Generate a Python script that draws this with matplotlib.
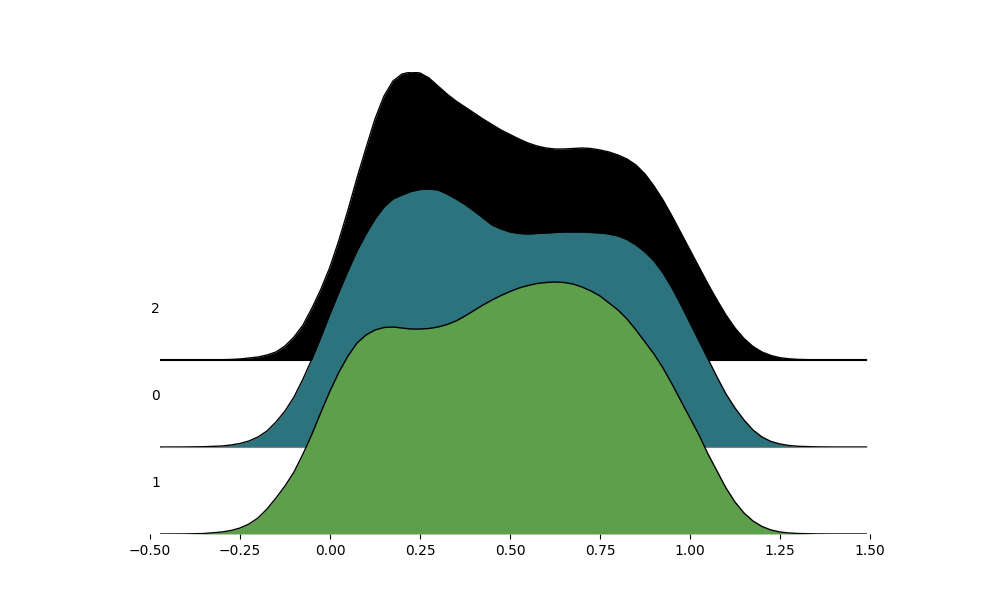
import numpy as np
import matplotlib.pyplot as plt

# kde curves (arbitrary height units), one per group
x = [-0.47, -0.45, -0.40, -0.35,
     -0.300, -0.275, -0.250, -0.225, -0.200, -0.175, -0.150, -0.125,
     -0.100, -0.075, -0.050, -0.025,
     0.000, 0.025, 0.050, 0.075, 0.100, 0.125, 0.150, 0.175,
     0.200, 0.225, 0.250, 0.275, 0.300, 0.325, 0.350, 0.375,
     0.400, 0.425, 0.450, 0.475, 0.500, 0.525, 0.550, 0.575,
     0.600, 0.625, 0.650, 0.675, 0.700, 0.725, 0.750, 0.775,
     0.800, 0.825, 0.850, 0.875, 0.900, 0.925, 0.950, 0.975,
     1.000, 1.025, 1.050, 1.075, 1.100, 1.125, 1.150, 1.175,
     1.200, 1.225, 1.250, 1.275, 1.300,
     1.35, 1.40, 1.45, 1.49]

dens_2 = [0, 0, 0, 0.1,
          0.3, 0.5, 1, 2, 3, 5, 8, 14, 23, 35, 52, 71,
          93, 120, 150, 182, 212, 241, 264, 279,
          286, 288, 287, 282, 274, 266, 259, 253,
          247, 241, 235.5, 230, 225.5, 221, 217, 214,
          212, 211, 211, 211.5, 212, 211.5, 210, 208,
          205, 201, 195, 186, 174, 160, 144, 127,
          110, 93, 76, 60, 45, 32, 21.5, 13.5,
          8, 4.5, 2.3, 1.2, 0.6,
          0.15, 0, 0, 0]

dens_0 = [0, 0, 0.05, 0.3,
          1, 2, 3.5, 6, 10, 16, 25, 36, 50, 68, 88, 110,
          133, 155, 176, 196, 213, 228, 240, 248,
          252, 255.5, 257.5, 258, 257, 253, 248, 242.5,
          236, 229, 222, 218, 215, 213.5, 213, 213.5,
          214, 214.5, 215, 215, 215, 214.5, 214, 213,
          211, 207.5, 202, 195, 186, 174, 159, 142,
          124, 106, 88, 70, 53, 39, 27, 17,
          10, 5.5, 3, 1.5, 0.7,
          0.15, 0, 0, 0]

dens_1 = [0, 0, 0.1, 0.5,
          2, 3.5, 6, 10, 16, 25, 36, 48, 62, 80, 100, 122,
          143, 162, 178, 191, 199, 204, 206.5, 207,
          206, 205, 205, 205.5, 207, 209.5, 213, 218,
          223.5, 229, 234, 238.5, 242.5, 246, 248.5, 250.5,
          251.5, 252, 251.5, 250, 247, 243, 238, 231,
          224, 215, 204, 192, 180, 166, 150, 133,
          116, 99, 80, 63, 46, 32, 21, 13,
          7.5, 4, 2, 1, 0.5,
          0.1, 0, 0, 0]

labels = ['2', '0', '1']
curves = [dens_2, dens_0, dens_1]
colors = ['#000000', '#2c737e', '#5e9f4b']
step = 87

fig, ax = plt.subplots(figsize=(10, 6), dpi=100)

x = np.array(x)
n = len(labels)
for i, (lab, d, c) in enumerate(zip(labels, curves, colors)):
    base = (n - 1 - i) * step
    d = np.array(d)
    ax.fill_between(x, base, base + d, color=c, zorder=2 * i + 1, lw=0)
    ax.plot(x, base + d, color='black', lw=1, zorder=2 * i + 2)
    ax.plot([x[0], x[-1]], [base, base], color=c if i == 0 else 'grey',
            lw=1.5 if i == 0 else 0.8, zorder=2 * i + 2)
    ax.text(-0.472, base + 51, lab, ha='right', va='center', fontsize=10)

ax.set_xlim(-0.5694, 1.5833)
ax.set_ylim(0, 462)
ax.set_xticks(np.arange(-0.5, 1.51, 0.25))
ax.set_yticks([])
for s in ax.spines.values():
    s.set_visible(False)

plt.savefig('out.png')
